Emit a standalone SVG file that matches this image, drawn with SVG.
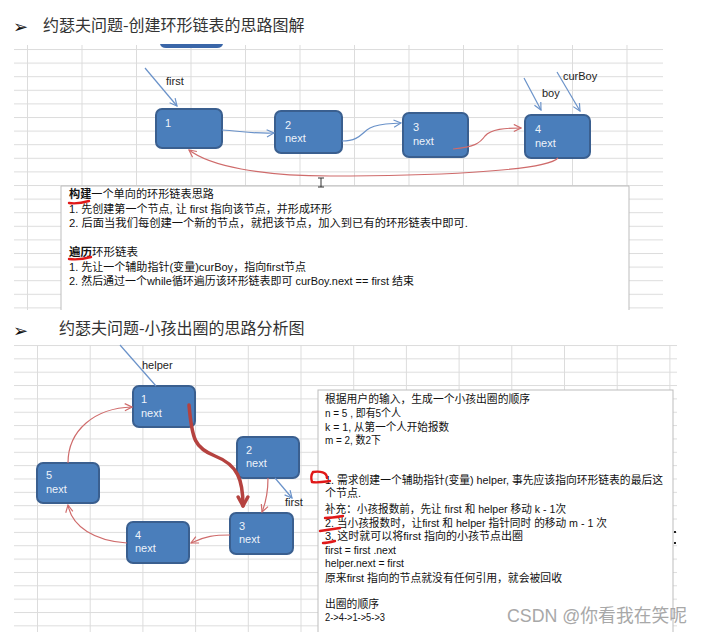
<svg xmlns="http://www.w3.org/2000/svg" width="703" height="632" viewBox="0 0 703 632">
<style>
.title{font-family:"Noto Sans CJK SC","Liberation Sans",sans-serif;font-size:16px;fill:#333}
.bullet{font-family:"DejaVu Sans",sans-serif;font-size:18px;fill:#111}
.node rect{fill:#4a7ebb;stroke:#3a5f8f;stroke-width:2}
.node text{font-family:"Liberation Sans","Open Sans",sans-serif;font-size:11px;fill:#eef3fa}
.lbl{font-family:"Liberation Sans",sans-serif;font-size:11px;fill:#222}
.t1{font-family:"Liberation Sans","Noto Sans CJK SC",sans-serif;font-size:11px;fill:#111}
.t2{font-family:"Liberation Sans","Noto Sans CJK SC",sans-serif;font-size:11px;fill:#111}
.blue{fill:none;stroke:#6a92c9;stroke-width:1.2}
.red{fill:none;stroke:#cf6b6b;stroke-width:1.2}
.mark{fill:none;stroke:#e01818;stroke-width:2.4;stroke-linecap:round}
.box{fill:#fff;stroke:#bdbdbd;stroke-width:1}
</style>
<defs>
<pattern id="gTop" patternUnits="userSpaceOnUse" x="27" y="49" width="54.5" height="13.6">
<rect x="0" y="0" width="54.5" height="1" fill="#dcdcdc"/>
<rect x="0" y="0" width="1" height="13.6" fill="#dcdcdc"/>
</pattern>
<pattern id="gBot" patternUnits="userSpaceOnUse" x="37" y="345" width="52.7" height="13.35">
<rect x="0" y="0" width="52.7" height="1" fill="#dcdcdc"/>
<rect x="0" y="0" width="1" height="13.35" fill="#dcdcdc"/>
</pattern>
<marker id="ab" viewBox="0 0 10 10" refX="9" refY="5" markerWidth="9" markerHeight="9" orient="auto" markerUnits="userSpaceOnUse"><path d="M1,1 L9,5 L1,9" fill="none" stroke="#6a92c9" stroke-width="1.3"/></marker>
<marker id="ar" viewBox="0 0 10 10" refX="9" refY="5" markerWidth="9" markerHeight="9" orient="auto" markerUnits="userSpaceOnUse"><path d="M1,1 L9,5 L1,9" fill="none" stroke="#cf6b6b" stroke-width="1.3"/></marker>
<marker id="art" viewBox="0 0 10 10" refX="8" refY="5" markerWidth="14" markerHeight="14" orient="auto" markerUnits="userSpaceOnUse"><path d="M1.5,1.5 L8,5 L1.5,8.5" fill="none" stroke="#b5423f" stroke-width="2.4" stroke-linejoin="round" stroke-linecap="round"/></marker>
</defs>
<rect width="703" height="632" fill="#fff"/>

<!-- titles -->
<text class="bullet" x="13" y="33">➢</text>
<text class="title" x="43" y="31">约瑟夫问题-创建环形链表的思路图解</text>
<text class="bullet" x="13" y="337">➢</text>
<text class="title" x="59" y="334">约瑟夫问题-小孩出圈的思路分析图</text>

<!-- grids -->
<rect x="14" y="45" width="649" height="265" fill="url(#gTop)"/>
<rect x="14" y="345" width="663" height="287" fill="url(#gBot)"/>
<path d="M160,44 Q161,48 166,48 L217,48 Q222,48 223,44 Z" fill="#3a66a8"/>

<!-- top text box -->
<g id="box-top">
<path class="box" d="M61,310 V186 H629 V310"/>
<text class="t1" x="69" y="198" textLength="145" lengthAdjust="spacingAndGlyphs"><tspan font-weight="bold">构建</tspan>一个单向的环形链表思路</text>
<text class="t1" x="69" y="213" textLength="263" lengthAdjust="spacingAndGlyphs">1. 先创建第一个节点, 让 first 指向该节点，并形成环形</text>
<text class="t1" x="69" y="227" textLength="399" lengthAdjust="spacingAndGlyphs">2. 后面当我们每创建一个新的节点，就把该节点，加入到已有的环形链表中即可.</text>
<text class="t1" x="69" y="256" textLength="69" lengthAdjust="spacingAndGlyphs"><tspan font-weight="bold">遍历</tspan>环形链表</text>
<text class="t1" x="69" y="271" textLength="237" lengthAdjust="spacingAndGlyphs">1. 先让一个辅助指针(变量)curBoy，指向first节点</text>
<text class="t1" x="69" y="285" textLength="345" lengthAdjust="spacingAndGlyphs">2. 然后通过一个while循环遍历该环形链表即可 curBoy.next == first 结束</text>
<path class="mark" d="M69,203 C75,204 82,203 89,201"/>
<path class="mark" d="M69,259 C76,260 84,259 91,257"/>
</g>
<path d="M318,178 H324 M321,178 V187 M318,187 H324" stroke="#333" stroke-width="1" fill="none"/>

<!-- top nodes -->
<g id="t-node1" class="node"><rect x="156" y="109" width="66" height="39" rx="6"/><text x="165" y="127">1</text></g>
<g id="t-node2" class="node"><rect x="275" y="111" width="67" height="42" rx="6"/><text x="285" y="129">2</text><text x="285" y="142">next</text></g>
<g id="t-node3" class="node"><rect x="403" y="113" width="65" height="44" rx="6"/><text x="413" y="131">3</text><text x="413" y="145">next</text></g>
<g id="t-node4" class="node"><rect x="525" y="115" width="65" height="43" rx="6"/><text x="535" y="133">4</text><text x="535" y="147">next</text></g>

<!-- top connectors -->
<g id="top-connectors">
<path class="blue" d="M145,68 L177,106" marker-end="url(#ab)"/>
<text class="lbl" x="166" y="85">first</text>
<path class="blue" d="M222,130 C240,131 255,134 274,133" marker-end="url(#ab)"/>
<path class="blue" d="M342,141 C360,141 362,132 370,128 C380,123 390,124 401,123" marker-end="url(#ab)"/>
<path class="red" d="M453,149 C475,147 480,143 485,136 C491,129 505,128 521,128" marker-end="url(#ar)"/>
<path class="red" d="M558,158 C545,172 420,176 330,176 C260,176 210,166 189,150" marker-end="url(#ar)"/>
<path class="blue" d="M524,78 L541,110" marker-end="url(#ab)"/>
<text class="lbl" x="542" y="97">boy</text>
<path class="blue" d="M557,72 L580,111" marker-end="url(#ab)"/>
<text class="lbl" x="563" y="80">curBoy</text>
</g>

<!-- bottom text box -->
<g id="box-bottom">
<rect class="box" x="318" y="390" width="355" height="250"/>
<text class="t2" x="325" y="403" textLength="205" lengthAdjust="spacingAndGlyphs">根据用户的输入，生成一个小孩出圈的顺序</text>
<text class="t2" x="325" y="417" textLength="76" lengthAdjust="spacingAndGlyphs">n = 5 , 即有5个人</text>
<text class="t2" x="325" y="431" textLength="124" lengthAdjust="spacingAndGlyphs">k = 1, 从第一个人开始报数</text>
<text class="t2" x="325" y="444" textLength="56" lengthAdjust="spacingAndGlyphs">m = 2, 数2下</text>
<text class="t2" x="325" y="484" textLength="338" lengthAdjust="spacingAndGlyphs">1.  需求创建一个辅助指针(变量) helper, 事先应该指向环形链表的最后这</text>
<text class="t2" x="325" y="497">个节点.</text>
<text class="t2" x="325" y="513" textLength="241" lengthAdjust="spacingAndGlyphs">补充：小孩报数前，先让 first 和 helper 移动 k - 1次</text>
<text class="t2" x="325" y="527" textLength="282" lengthAdjust="spacingAndGlyphs">2.  当小孩报数时，让first 和 helper 指针同时 的移动 m  - 1 次</text>
<text class="t2" x="325" y="540" textLength="198" lengthAdjust="spacingAndGlyphs">3.  这时就可以将first 指向的小孩节点出圈</text>
<text class="t2" x="325" y="554" textLength="71" lengthAdjust="spacingAndGlyphs">first = first .next</text>
<text class="t2" x="325" y="567" textLength="79" lengthAdjust="spacingAndGlyphs">helper.next = first</text>
<text class="t2" x="325" y="582" textLength="237" lengthAdjust="spacingAndGlyphs">原来first 指向的节点就没有任何引用，就会被回收</text>
<text class="t2" x="325" y="608" textLength="54" lengthAdjust="spacingAndGlyphs">出圈的顺序</text>
<text class="t2" x="325" y="621" font-size="9" textLength="60" lengthAdjust="spacingAndGlyphs">2-&gt;4-&gt;1-&gt;5-&gt;3</text>
<path class="mark" d="M327,478 C327,472 320,471 313,472 C311,475 311,479 312,482 C317,483 323,482 330,481"/>
<path class="mark" d="M325,518 C331,518 337,517 343,516"/>
<path class="mark" d="M320,531 C327,530 333,529 340,528"/>
<path class="mark" d="M323,543 C327,543 331,542 335,541"/>
<rect x="674" y="531" width="2" height="2" fill="#222"/>
<rect x="674" y="542" width="2" height="2" fill="#222"/>
</g>

<!-- bottom nodes -->
<g id="b-node1" class="node"><rect x="133" y="386" width="62" height="41" rx="6"/><text x="141" y="403">1</text><text x="141" y="417">next</text></g>
<g id="b-node2" class="node"><rect x="237" y="437" width="62" height="41" rx="6"/><text x="246" y="454">2</text><text x="246" y="467">next</text></g>
<g id="b-node3" class="node"><rect x="230" y="513" width="63" height="41" rx="6"/><text x="239" y="530">3</text><text x="239" y="543">next</text></g>
<g id="b-node4" class="node"><rect x="127" y="522" width="62" height="41" rx="6"/><text x="135" y="539">4</text><text x="135" y="552">next</text></g>
<g id="b-node5" class="node"><rect x="37" y="463" width="62" height="40" rx="6"/><text x="46" y="479">5</text><text x="46" y="493">next</text></g>

<!-- bottom connectors -->
<g id="bottom-connectors">
<path class="blue" d="M120,345 L156,386"/>
<text class="lbl" x="142" y="369">helper</text>
<path class="red" d="M68,463 C68,430 95,408 132,407" marker-end="url(#ar)"/>
<path d="M189,405 C192,440 195,448 215,456 C238,465 243,480 243,506" fill="none" stroke="#b5423f" stroke-width="3.5" stroke-linecap="round" marker-end="url(#art)"/>
<path class="red" d="M268,478 C268,492 266,502 262,512" marker-end="url(#ar)"/>
<path class="blue" d="M275,478 L292,498" marker-end="url(#ab)"/>
<text class="lbl" x="285" y="506">first</text>
<path class="red" d="M230,535 C215,535 205,536 191,543" marker-end="url(#ar)"/>
<path class="red" d="M127,543 C95,541 72,527 68,505" marker-end="url(#ar)"/>
</g>

<text x="507" y="622" font-family="Liberation Sans,Noto Sans CJK SC,sans-serif" font-size="18.5" fill="#a8a8a8" textLength="180" lengthAdjust="spacingAndGlyphs">CSDN @你看我在笑呢</text>
</svg>
